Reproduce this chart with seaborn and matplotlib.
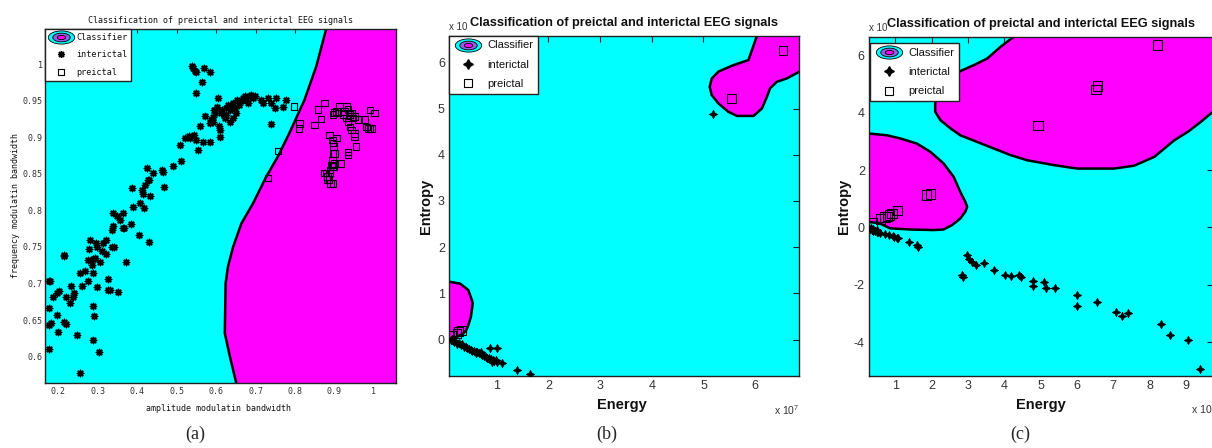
import numpy as np
import pandas as pd
import matplotlib
matplotlib.use("Agg")
import matplotlib.pyplot as plt
import seaborn as sns
from matplotlib.path import Path
from matplotlib.lines import Line2D
from matplotlib.legend_handler import HandlerTuple

# ---------------- data: panel (a) ----------------
a_interictal = [(0.538,0.998),(0.542,0.995),(0.546,0.991),(0.550,0.989),(0.569,0.995),(0.584,0.989),(0.563,0.976),(0.550,0.960),
 (0.175,0.610),(0.175,0.703),(0.179,0.703),(0.177,0.666),(0.177,0.643),(0.181,0.646),(0.187,0.681),(0.196,0.687),(0.202,0.690),
 (0.196,0.657),(0.200,0.634),(0.214,0.739),(0.215,0.737),(0.219,0.682),(0.214,0.648),(0.219,0.645),(0.230,0.673),(0.232,0.697),
 (0.238,0.682),(0.240,0.687),(0.246,0.630),(0.255,0.577),(0.255,0.715),(0.259,0.696),(0.267,0.717),(0.274,0.732),(0.278,0.747),
 (0.279,0.759),(0.276,0.703),(0.284,0.726),(0.289,0.734),(0.293,0.735),(0.287,0.714),(0.287,0.669),(0.290,0.655),(0.289,0.623),
 (0.295,0.756),(0.299,0.750),(0.299,0.695),(0.303,0.607),(0.305,0.730),(0.310,0.744),(0.314,0.755),(0.321,0.760),(0.325,0.691),
 (0.331,0.691),(0.327,0.706),(0.322,0.741),(0.335,0.750),(0.335,0.773),(0.339,0.796),(0.342,0.750),(0.338,0.778),(0.348,0.792),
 (0.352,0.689),(0.356,0.787),(0.363,0.796),(0.363,0.776),(0.367,0.776),(0.371,0.730),(0.383,0.782),(0.386,0.830),(0.390,0.805),
 (0.405,0.766),(0.407,0.810),(0.413,0.828),(0.415,0.823),(0.417,0.803),(0.420,0.835),(0.424,0.858),(0.428,0.842),(0.430,0.842),
 (0.430,0.757),(0.432,0.819),(0.440,0.851),(0.464,0.855),(0.466,0.852),(0.468,0.832),(0.491,0.860),(0.508,0.890),(0.512,0.868),
 (0.521,0.899),(0.530,0.902),(0.535,0.899),(0.543,0.903),(0.550,0.896),(0.555,0.883),(0.559,0.915),(0.567,0.894),(0.571,0.929),
 (0.584,0.894),(0.584,0.919),(0.588,0.924),(0.591,0.928),(0.592,0.921),(0.594,0.937),(0.597,0.933),(0.601,0.941),(0.605,0.953),
 (0.609,0.910),(0.609,0.901),(0.613,0.933),(0.616,0.937),(0.619,0.931),(0.622,0.926),(0.624,0.940),(0.626,0.931),(0.630,0.944),
 (0.635,0.937),(0.639,0.942),(0.643,0.947),(0.647,0.940),(0.650,0.933),(0.653,0.951),(0.658,0.944),(0.662,0.949),(0.667,0.953),
 (0.673,0.956),(0.677,0.951),(0.681,0.947),(0.685,0.956),(0.689,0.958),(0.694,0.953),(0.698,0.956),(0.715,0.951),(0.719,0.947),
 (0.732,0.953),(0.740,0.947),(0.749,0.940),(0.753,0.953),(0.740,0.918),(0.770,0.942),(0.778,0.951),(0.635,0.921),(0.643,0.926),
 (0.607,0.915)]
a_preictal = [(0.797,0.942),(0.810,0.912),(0.812,0.919),(0.850,0.917),(0.858,0.938),(0.866,0.925),(0.875,0.947),(0.888,0.903),
 (0.895,0.896),(0.898,0.887),(0.896,0.931),(0.900,0.934),(0.905,0.935),(0.909,0.933),(0.913,0.942),(0.922,0.931),(0.926,0.935),
 (0.930,0.942),(0.935,0.938),(0.939,0.931),(0.943,0.933),(0.947,0.926),(0.930,0.926),(0.935,0.921),(0.939,0.914),(0.943,0.910),
 (0.951,0.928),(0.951,0.905),(0.951,0.901),(0.955,0.887),(0.934,0.880),(0.934,0.876),(0.917,0.864),(0.905,0.899),(0.900,0.878),
 (0.896,0.892),(0.960,0.924),(0.977,0.924),(0.981,0.914),(0.985,0.912),(0.990,0.912),(0.994,0.912),(0.990,0.937),(1.002,0.933),
 (0.896,0.878),(0.895,0.869),(0.892,0.862),(0.889,0.855),(0.888,0.851),(0.883,0.846),(0.886,0.842),(0.890,0.837),(0.895,0.860),
 (0.899,0.864),(0.879,0.851),(0.881,0.842),(0.875,0.851),(0.732,0.844),(0.757,0.881),(0.896,0.837),(0.898,0.860)]
# decision boundary, magenta side to the right
a_boundary_x = [0.886, 0.879, 0.854, 0.824, 0.786, 0.757, 0.727, 0.694, 0.664, 0.643, 0.630, 0.624, 0.622, 0.635, 0.651, 0.656]
a_boundary_y = [1.070, 1.048, 0.997, 0.951, 0.906, 0.874, 0.846, 0.810, 0.782, 0.750, 0.723, 0.700, 0.632, 0.600, 0.564, 0.550]
a_xticks = [0.2, 0.3, 0.4, 0.5, 0.6, 0.7, 0.8, 0.9, 1.0]
a_xticklabels = ["0.2", "0.3", "0.4", "0.5", "0.6", "0.7", "0.8", "0.9", "1"]
a_yticks = [0.6, 0.65, 0.7, 0.75, 0.8, 0.85, 0.9, 0.95, 1.0]
a_yticklabels = ["0.6", "0.65", "0.7", "0.75", "0.8", "0.85", "0.9", "0.95", "1"]

# ---------------- data: panel (b) ----------------
b_interictal = [(0.11,0.00),(0.13,0.02),(0.14,-0.02),(0.17,-0.05),(0.20,-0.03),(0.24,-0.09),(0.27,-0.07),(0.30,-0.12),
 (0.33,-0.10),(0.37,-0.16),(0.40,-0.17),(0.43,-0.19),(0.46,-0.21),(0.50,-0.22),(0.53,-0.24),(0.56,-0.25),(0.59,-0.27),
 (0.60,-0.30),(0.62,-0.28),(0.66,-0.30),(0.69,-0.32),(0.70,-0.26),(0.72,-0.33),(0.75,-0.35),(0.79,-0.37),(0.82,-0.39),
 (0.85,-0.40),(0.88,-0.43),(0.90,-0.48),(0.92,-0.45),(0.95,-0.46),(0.98,-0.44),(1.01,-0.48),(1.11,-0.51),(0.86,-0.18),
 (1.00,-0.18),(1.40,-0.66),(1.64,-0.74),(5.19,4.88)]
b_preictal = [(0.13,0.09),(0.23,0.13),(0.26,0.17),(0.32,0.20),(5.54,5.21),(6.54,6.26)]
b_region1_x = [0.0, 0.084, 0.29, 0.45, 0.52, 0.535, 0.50, 0.45, 0.41, 0.35, 0.22, 0.0]
b_region1_y = [1.25, 1.25, 1.21, 1.07, 0.85, 0.78, 0.49, 0.31, 0.20, 0.13, 0.05, -0.01]
b_region2_x = [6.08, 6.03, 5.87, 5.58, 5.29, 5.16, 5.12, 5.16, 5.29, 5.48, 5.65, 5.97, 6.13, 6.23, 6.29, 6.42, 6.61, 6.86, 7.00]
b_region2_y = [6.70, 6.56, 6.05, 5.94, 5.80, 5.65, 5.47, 5.29, 5.11, 4.93, 4.84, 4.84, 5.00, 5.26, 5.44, 5.58, 5.65, 5.80, 5.88]
b_xticks = [1, 2, 3, 4, 5, 6]
b_yticks = [0, 1, 2, 3, 4, 5, 6]

# ---------------- data: panel (c) ----------------
c_interictal = [(0.31,-0.07),(0.36,-0.09),(0.40,-0.12),(0.45,-0.13),(0.49,-0.15),(0.54,-0.17),(0.59,-0.19),(0.72,-0.23),
 (0.82,-0.27),(0.95,-0.29),(0.98,-0.32),(1.05,-0.35),(1.09,-0.35),(1.37,-0.50),(1.60,-0.61),(1.62,-0.67),(0.33,-0.03),
 (0.38,-0.05),(0.50,-0.08),(2.87,-1.72),(2.84,-1.66),(2.98,-0.96),(3.02,-1.08),(3.11,-1.19),(3.23,-1.31),(3.44,-1.25),
 (3.71,-1.48),(4.03,-1.66),(4.19,-1.69),(4.40,-1.66),(4.47,-1.74),(4.80,-1.86),(4.80,-2.04),(5.09,-1.89),(5.14,-2.12),
 (5.39,-2.12),(6.01,-2.36),(6.01,-2.74),(6.56,-2.59),(7.07,-2.94),(7.25,-3.09),(7.39,-2.96),(8.31,-3.36),(8.57,-3.75),
 (9.06,-3.92),(9.39,-4.91)]
c_preictal = [(8.22,6.35),(6.52,4.80),(6.56,4.92),(4.93,3.54),(1.87,1.13),(1.97,1.16),(1.07,0.58),(0.91,0.49),(0.84,0.43),
 (0.79,0.39),(0.72,0.37),(0.59,0.29),(0.36,0.16)]
c_region1_x = [0.0, 0.28, 0.77, 1.14, 1.60, 1.97, 2.33, 2.61, 2.79, 2.93, 2.98, 2.93, 2.79, 2.56, 2.33, 2.06, 1.41, 0.86, 0.56, 0.28, 0.0]
c_region1_y = [3.27, 3.27, 3.21, 3.10, 2.92, 2.63, 2.23, 1.76, 1.24, 0.89, 0.72, 0.55, 0.31, 0.08, -0.07, -0.09, -0.07, -0.03, 0.15, 0.19, 0.20]
c_region2_x = [4.40, 4.26, 3.90, 3.53, 3.16, 2.75, 2.43, 2.15, 2.10, 2.10, 2.24, 2.52, 2.79, 3.25, 3.71, 4.17, 4.63, 5.37, 6.01,
               7.02, 7.57, 8.13, 8.68, 9.05, 9.41, 9.74, 9.90]
c_region2_y = [6.80, 6.64, 6.29, 5.88, 5.65, 5.42, 5.01, 4.55, 4.32, 4.03, 3.74, 3.45, 3.21, 2.98, 2.75, 2.52, 2.34, 2.17, 2.05,
               2.05, 2.15, 2.46, 3.04, 3.33, 3.68, 4.03, 4.20]
c_xticks = [1, 2, 3, 4, 5, 6, 7, 8, 9]
c_yticks = [-4, -2, 0, 2, 4, 6]

CYAN = "#00ffff"
MAGENTA = "#ff00ff"
PURPLE = "#8f63e6"

sns.set_style("white")
plt.rcParams["mathtext.default"] = "regular"
plt.rcParams["axes.unicode_minus"] = False
NARROW = ["Liberation Sans Narrow", "Liberation Sans", "DejaVu Sans"]
MONO = ["DejaVu Sans Mono"]
plt.rcParams["font.family"] = NARROW

fig = plt.figure(figsize=(12.12, 4.48), dpi=100)
axA = fig.add_axes([0.0371, 0.1451, 0.2896, 0.7902])
axB = fig.add_axes([0.3705, 0.1607, 0.2888, 0.7589])
axC = fig.add_axes([0.7170, 0.1607, 0.2838, 0.7567])


def ellipse_marker():
    c = Path.unit_circle()
    return Path(c.vertices * np.array([1.0, 0.5]), c.codes)


ELL = ellipse_marker()


def style_axes(ax, xlim, ylim, family, fs, tick_len):
    ax.set_facecolor(CYAN)
    ax.set_xlim(*xlim)
    ax.set_ylim(*ylim)
    for s in ax.spines.values():
        s.set_visible(True)
        s.set_color("#222222")
        s.set_linewidth(1.0)
    ax.tick_params(direction="in", top=True, right=True, length=tick_len, width=0.8,
                   colors="#222222", labelsize=fs, pad=3)
    for lab in ax.get_xticklabels() + ax.get_yticklabels():
        lab.set_family(family)
        lab.set_color("#333333")


def fill_region(ax, xs, ys, close_pts):
    px = list(xs) + [p[0] for p in close_pts]
    py = list(ys) + [p[1] for p in close_pts]
    ax.fill(px, py, color=MAGENTA, edgecolor="none", zorder=1)
    ax.plot(xs, ys, color="black", lw=1.8, zorder=2, solid_joinstyle="round")


def scatter(ax, pts, kind, size, lw):
    df = pd.DataFrame(pts, columns=["x", "y"])
    if kind == "ast":
        sns.scatterplot(data=df, x="x", y="y", ax=ax, marker=(8, 2, 0), s=size, color="black",
                        linewidth=lw, zorder=4, legend=False)
    elif kind == "star":
        sns.scatterplot(data=df, x="x", y="y", ax=ax, marker=(4, 1, 0), s=size, color="black",
                        edgecolor="black", linewidth=lw, zorder=4, legend=False)
    else:
        sns.scatterplot(data=df, x="x", y="y", ax=ax, marker="s", s=size, color="black",
                        facecolor="none", edgecolor="black", linewidth=lw, zorder=3, legend=False)


def make_legend(ax, fam, fs, int_marker, int_ms, sq_ms, ell_ms, anchor, hl, lsp, htp, bpad):
    h_cls = (Line2D([], [], ls="none", marker=ELL, ms=ell_ms, mfc=CYAN, mec="black", mew=0.6),
             Line2D([], [], ls="none", marker=ELL, ms=ell_ms * 0.66, mfc=PURPLE, mec="black", mew=0.6),
             Line2D([], [], ls="none", marker=ELL, ms=ell_ms * 0.32, mfc=MAGENTA, mec="black", mew=0.6))
    if int_marker == "ast":
        h_int = Line2D([], [], ls="none", marker=(8, 2, 0), ms=int_ms, color="black", mew=1.0)
    else:
        h_int = Line2D([], [], ls="none", marker=(4, 1, 0), ms=int_ms, color="black", mec="black")
    h_pre = Line2D([], [], ls="none", marker="s", ms=sq_ms, mfc="none", mec="black", mew=0.8)
    leg = ax.legend([h_cls, h_int, h_pre], ["Classifier", "interictal", "preictal"],
                    handler_map={tuple: HandlerTuple(ndivide=1, pad=0)},
                    loc="upper left", bbox_to_anchor=anchor, borderaxespad=0,
                    frameon=True, fancybox=False, framealpha=1, edgecolor="#222222",
                    prop={"family": fam, "size": fs}, handlelength=hl, handletextpad=htp,
                    labelspacing=lsp, borderpad=bpad)
    leg.get_frame().set_linewidth(1.0)
    leg.set_zorder(10)
    for t in leg.get_texts():
        t.set_color("#111111")
    return leg


# ---------------- panel (a) ----------------
ax = axA
fill_region(ax, a_boundary_x, a_boundary_y, [(1.2, 0.55), (1.2, 1.07)])
scatter(ax, a_interictal, "ast", 20, 1.1)
scatter(ax, a_preictal, "sq", 22, 0.8)
ax.set_xticks(a_xticks)
ax.set_xticklabels(a_xticklabels)
ax.set_yticks(a_yticks)
ax.set_yticklabels(a_yticklabels)
style_axes(ax, (0.166, 1.056), (0.564, 1.048), MONO, 6, 3)
ax.tick_params(axis="y", pad=1.5)
ax.set_title("Classification of preictal and interictal EEG signals", family=MONO, fontsize=6, pad=4.5, color="#111111")
ax.set_xlabel("amplitude modulatin bandwidth", family=MONO, fontsize=6, color="#111111")
ax.set_ylabel("frequency modulatin bandwidth", family=MONO, fontsize=6, color="#111111")
ax.xaxis.set_label_coords(0.494, -0.058)
ax.yaxis.set_label_coords(-0.072, 0.5)
make_legend(ax, MONO, 6.1, "ast", 5, 4.5, 19, (0.0, 1.0), 3.0, 1.0, 0.2, 0.45)

# ---------------- panel (b) ----------------
ax = axB
fill_region(ax, b_region1_x, b_region1_y, [(-0.5, -0.01), (-0.5, 1.25)])
fill_region(ax, b_region2_x, b_region2_y, [(7.0, 6.70)])
scatter(ax, b_interictal, "star", 38, 0.4)
scatter(ax, b_preictal, "sq", 40, 0.8)
ax.set_xticks(b_xticks)
ax.set_yticks(b_yticks)
style_axes(ax, (0.077, 6.85), (-0.79, 6.57), NARROW, 9, 4)
ax.set_title("Classification of preictal and interictal EEG signals", fontsize=9.2, fontweight="bold", pad=7, color="#111111")
ax.set_xlabel("Energy", fontsize=10.5, fontweight="bold", color="#111111")
ax.set_ylabel("Entropy", fontsize=10.5, fontweight="bold", color="#111111")
ax.xaxis.set_label_coords(0.494, -0.065)
ax.yaxis.set_label_coords(-0.046, 0.5)
ax.text(0.0, 1.012, "x 10", transform=ax.transAxes, ha="left", va="bottom", fontsize=7, color="#333333")
ax.text(1.0, -0.1, "x 10$^{7}$", transform=ax.transAxes, ha="right", va="center", fontsize=7.5, color="#333333")
make_legend(ax, NARROW, 8, "star", 7, 6, 19, (0.0, 1.0), 2.6, 0.85, 0.45, 0.4)

# ---------------- panel (c) ----------------
ax = axC
fill_region(ax, c_region1_x, c_region1_y, [(-0.5, 0.20), (-0.5, 3.27)])
fill_region(ax, c_region2_x, c_region2_y, [(9.90, 6.80)])
scatter(ax, c_interictal, "star", 38, 0.4)
scatter(ax, c_preictal, "sq", 45, 0.8)
ax.set_xticks(c_xticks)
ax.set_yticks(c_yticks)
style_axes(ax, (0.28, 9.74), (-5.17, 6.63), NARROW, 9, 4)
ax.set_title("Classification of preictal and interictal EEG signals", fontsize=9.2, fontweight="bold", pad=7, color="#111111")
ax.set_xlabel("Energy", fontsize=10.5, fontweight="bold", color="#111111")
ax.set_ylabel("Entropy", fontsize=10.5, fontweight="bold", color="#111111")
ax.xaxis.set_label_coords(0.50, -0.065)
ax.yaxis.set_label_coords(-0.052, 0.5)
ax.text(0.0, 1.012, "x 10", transform=ax.transAxes, ha="left", va="bottom", fontsize=7, color="#333333")
ax.text(0.94, -0.1, "x 10", transform=ax.transAxes, ha="left", va="center", fontsize=7.5, color="#333333")
make_legend(ax, NARROW, 8, "star", 7, 6, 19, (0.003, 0.982), 2.6, 0.85, 0.45, 0.4)

# panel captions
for xf, lab in [(0.161, "(a)"), (0.501, "(b)"), (0.842, "(c)")]:
    fig.text(xf, 0.03, lab, ha="center", va="center", family=["Liberation Serif", "DejaVu Serif"], fontsize=13)

fig.savefig("out.png", dpi=100)
